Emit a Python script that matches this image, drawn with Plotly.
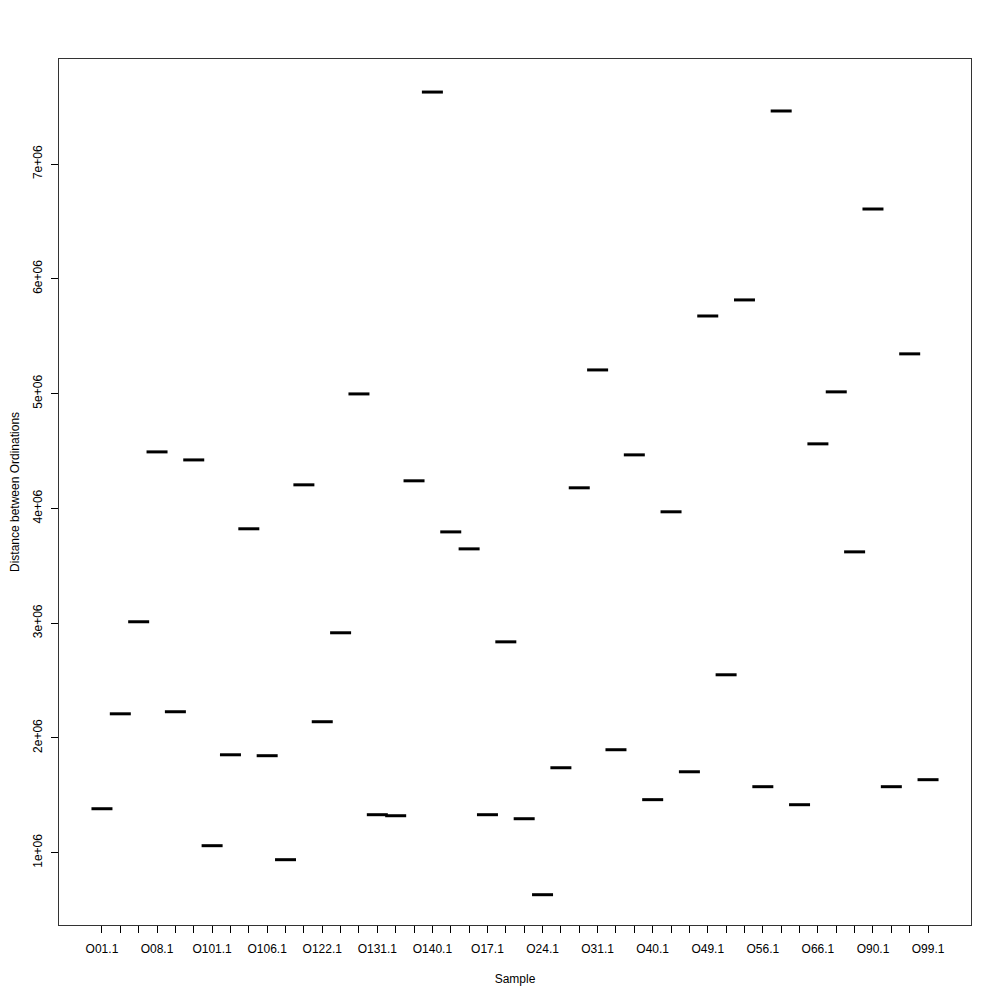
import plotly.graph_objects as go

samples = ["O01.1", "O02.1", "O05.1", "O08.1", "O10.1", "O100.1", "O101.1", "O102.1", "O104.1",
           "O106.1", "O11.1", "O12.1", "O122.1", "O125.1", "O13.1", "O131.1", "O134.1", "O14.1",
           "O140.1", "O15.1", "O16.1", "O17.1", "O19.1", "O21.1", "O24.1", "O27.1", "O30.1",
           "O31.1", "O34.1", "O37.1", "O40.1", "O43.1", "O46.1", "O49.1", "O51.1", "O54.1",
           "O56.1", "O60.1", "O63.1", "O66.1", "O72.1", "O81.1", "O90.1", "O93.1", "O96.1", "O99.1"]

distance = [1.383e6, 2.210e6, 3.012e6, 4.492e6, 2.228e6, 4.422e6, 1.061e6, 1.853e6, 3.822e6,
            1.845e6, 0.939e6, 4.205e6, 2.141e6, 2.916e6, 4.997e6, 1.331e6, 1.322e6, 4.240e6,
            7.627e6, 3.795e6, 3.647e6, 1.331e6, 2.837e6, 1.296e6, 0.634e6, 1.740e6, 4.179e6,
            5.206e6, 1.897e6, 4.466e6, 1.462e6, 3.970e6, 1.705e6, 5.676e6, 2.550e6, 5.816e6,
            1.575e6, 7.462e6, 1.418e6, 4.562e6, 5.015e6, 3.621e6, 6.608e6, 1.575e6, 5.346e6, 1.636e6]

labeled = ["O01.1", "O08.1", "O101.1", "O106.1", "O122.1", "O131.1", "O140.1", "O17.1",
           "O24.1", "O31.1", "O40.1", "O49.1", "O56.1", "O66.1", "O90.1", "O99.1"]

y_ticks = [1e6, 2e6, 3e6, 4e6, 5e6, 6e6, 7e6]
y_tick_text = ["1e+06", "2e+06", "3e+06", "4e+06", "5e+06", "6e+06", "7e+06"]

fig = go.Figure()
fig.add_trace(go.Scatter(
    x=samples, y=distance, mode="markers",
    marker=dict(symbol="line-ew", size=15, line=dict(width=3, color="black")),
    showlegend=False, hoverinfo="x+y"))

font = dict(family="Liberation Sans, Arial, sans-serif", size=12, color="black")

fig.update_layout(
    width=1000, height=1000,
    margin=dict(l=51, r=37, t=51, b=83, autoexpand=False),
    paper_bgcolor="white", plot_bgcolor="white",
    font=font,
    xaxis=dict(
        type="category", categoryorder="array", categoryarray=samples,
        range=[-2.34, 47.34],
        tickmode="array", tickvals=samples,
        ticktext=[s if s in labeled else "" for s in samples],
        ticks="outside", ticklen=7, tickcolor="black", tickwidth=1,
        ticklabelstandoff=6, automargin=False,
        showline=True, linecolor="#333333", linewidth=1, mirror=True,
        showgrid=False, zeroline=False,
        title=dict(text="Sample", standoff=19, font=font),
        tickfont=font,
    ),
    yaxis=dict(
        range=[0.37e6, 7.915e6],
        tickmode="array", tickvals=y_ticks, ticktext=y_tick_text,
        tickangle=-90,
        ticks="outside", ticklen=7, tickcolor="black", tickwidth=1,
        ticklabelstandoff=4, automargin=False,
        showline=True, linecolor="#333333", linewidth=1, mirror=True,
        showgrid=False, zeroline=False,
        title=dict(text="Distance between Ordinations", standoff=17, font=font),
        tickfont=font,
    ),
)

fig.write_html("out.html")
